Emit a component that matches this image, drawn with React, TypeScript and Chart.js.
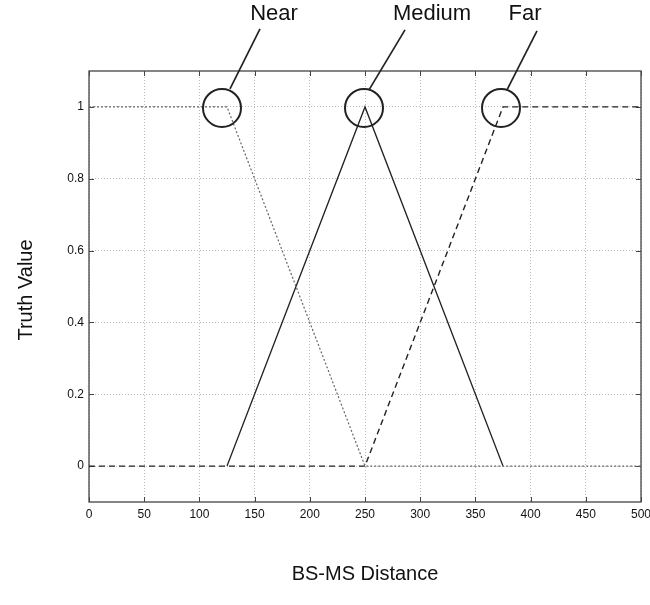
import React, { useEffect, useRef } from "react";
import { Chart, registerables } from "chart.js";

Chart.register(...registerables);

const xTicks = [0, 50, 100, 150, 200, 250, 300, 350, 400, 450, 500];
const yTicks = [0, 0.2, 0.4, 0.6, 0.8, 1];

const nearX = [0, 125, 250, 500];
const nearY = [1, 1, 0, 0];
const mediumX = [125, 250, 375];
const mediumY = [0, 1, 0];
const farX = [0, 250, 375, 500];
const farY = [0, 0, 1, 1];

const markerLabels = ["Near", "Medium", "Far"];
const markerX = [125, 250, 375];
const markerY = [1, 1, 1];

const xTitle = "BS-MS Distance";
const yTitle = "Truth Value";

const zip = (xs: number[], ys: number[]) => xs.map((x, i) => ({ x, y: ys[i] }));

export default function App() {
  const ref = useRef<HTMLCanvasElement | null>(null);

  useEffect(() => {
    document.body.style.margin = "0";
    const canvas = ref.current!;
    const font = "'Liberation Sans', Arial, sans-serif";

    const decor = {
      id: "decor",
      beforeDatasetsDraw(chart: any) {
        const { ctx, chartArea: a } = chart;
        ctx.save();
        ctx.strokeStyle = "#444";
        ctx.lineWidth = 1.3;
        ctx.strokeRect(a.left, a.top, a.right - a.left, a.bottom - a.top);
        const xs = chart.scales.x;
        const ys = chart.scales.y;
        ctx.lineWidth = 1;
        ctx.beginPath();
        xTicks.forEach((t) => {
          const px = Math.round(xs.getPixelForValue(t)) + 0.5;
          ctx.moveTo(px, a.bottom);
          ctx.lineTo(px, a.bottom - 5);
          ctx.moveTo(px, a.top);
          ctx.lineTo(px, a.top + 5);
        });
        yTicks.forEach((t) => {
          const py = Math.round(ys.getPixelForValue(t)) + 0.5;
          ctx.moveTo(a.left, py);
          ctx.lineTo(a.left + 5, py);
          ctx.moveTo(a.right, py);
          ctx.lineTo(a.right - 5, py);
        });
        ctx.stroke();
        ctx.restore();
      },
      afterDatasetsDraw(chart: any) {
        const { ctx } = chart;
        const xs = chart.scales.x;
        const ys = chart.scales.y;
        ctx.save();
        ctx.strokeStyle = "#222";
        ctx.fillStyle = "#111";
        const offsets = [
          { cx: -5, lx: 8, ly: -19, tx: 38, ty: -79, labx: 52 },
          { cx: -1, lx: 5, ly: -18, tx: 41, ty: -78, labx: 68 },
          { cx: -2, lx: 6, ly: -18, tx: 36, ty: -77, labx: 24 },
        ];
        markerX.forEach((mx, i) => {
          const o = offsets[i];
          const cx = xs.getPixelForValue(mx) + o.cx;
          const cy = ys.getPixelForValue(markerY[i]) + 1;
          ctx.lineWidth = 2;
          ctx.beginPath();
          ctx.arc(cx, cy, 19, 0, Math.PI * 2);
          ctx.stroke();
          ctx.lineWidth = 1.7;
          ctx.beginPath();
          ctx.moveTo(cx + o.lx, cy + o.ly);
          ctx.lineTo(cx + o.tx, cy + o.ty);
          ctx.stroke();
          ctx.font = `22px ${font}`;
          ctx.textAlign = "center";
          ctx.textBaseline = "middle";
          ctx.fillText(markerLabels[i], cx + o.labx, 14);
        });
        ctx.font = `20px ${font}`;
        ctx.fillStyle = "#111";
        ctx.textAlign = "center";
        ctx.textBaseline = "middle";
        ctx.fillText(xTitle, 365, 574);
        ctx.translate(26, 290);
        ctx.rotate(-Math.PI / 2);
        ctx.fillText(yTitle, 0, 0);
        ctx.restore();
      },
    };

    const chart = new Chart(canvas, {
      type: "line",
      data: {
        datasets: [
          {
            label: "Near",
            data: zip(nearX, nearY),
            borderColor: "#666",
            borderWidth: 1.2,
            borderDash: [2, 2],
            pointRadius: 0,
            tension: 0,
          },
          {
            label: "Medium",
            data: zip(mediumX, mediumY),
            borderColor: "#222",
            borderWidth: 1.3,
            pointRadius: 0,
            tension: 0,
          },
          {
            label: "Far",
            data: zip(farX, farY),
            borderColor: "#222",
            borderWidth: 1.4,
            borderDash: [6, 4],
            pointRadius: 0,
            tension: 0,
          },
        ],
      },
      options: {
        animation: false,
        responsive: false,
        layout: { padding: { left: 0, top: 71, right: 9, bottom: 0 } },
        plugins: { legend: { display: false }, tooltip: { enabled: false } },
        scales: {
          x: {
            type: "linear",
            min: 0,
            max: 500,
            afterBuildTicks: (s: any) => {
              s.ticks = xTicks.map((v) => ({ value: v }));
            },
            afterFit: (s: any) => {
              s.height = 103;
              s.paddingRight = 0;
              s.paddingLeft = 0;
            },
            border: { display: false, dash: [1, 2] },
            grid: { color: "#bbb", lineWidth: 1, drawTicks: false },
            ticks: {
              color: "#111",
              font: { family: font, size: 12 },
              padding: 5,
              maxRotation: 0,
            },
          },
          y: {
            type: "linear",
            min: -0.1,
            max: 1.1,
            afterBuildTicks: (s: any) => {
              s.ticks = yTicks.map((v) => ({ value: v }));
            },
            afterFit: (s: any) => {
              s.width = 89;
            },
            border: { display: false, dash: [1, 2] },
            grid: { color: "#bbb", lineWidth: 1, drawTicks: false },
            ticks: {
              color: "#111",
              font: { family: font, size: 12 },
              padding: 5,
              callback: (v: any) => String(Math.round(Number(v) * 10) / 10),
            },
          },
        },
      },
      plugins: [decor],
    });

    return () => chart.destroy();
  }, []);

  return <canvas ref={ref} width={650} height={605} style={{ display: "block" }} />;
}
